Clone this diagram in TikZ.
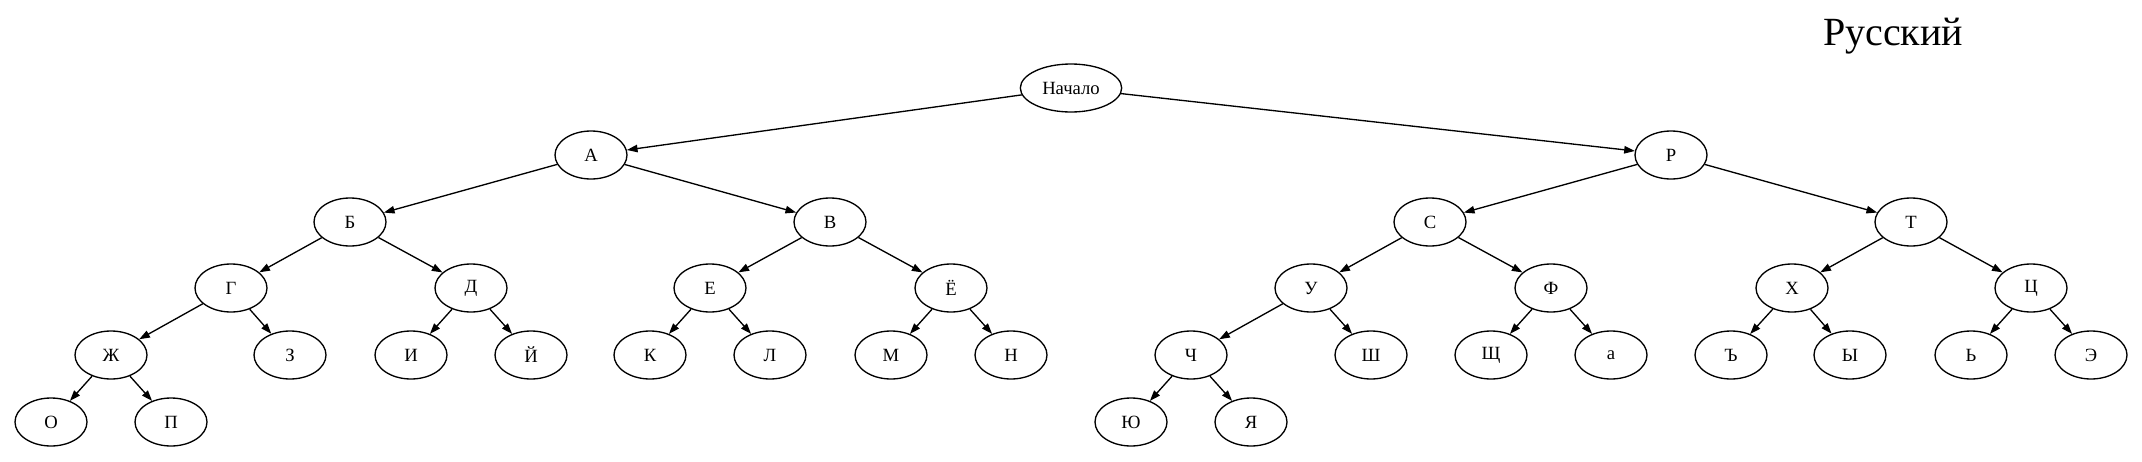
\documentclass[tikz,border=0pt]{standalone}
\usepackage{fontspec}
\setmainfont{Liberation Serif}
\usetikzlibrary{arrows.meta,shapes.geometric}
\tikzset{
  leaf/.style={draw,ellipse,line width=1pt,minimum width=54pt,minimum height=36pt,inner sep=0pt,font=\fontsize{14}{16}\selectfont},
  edge/.style={line width=1pt,-{Triangle[length=8pt,width=5.6pt]}}
}
\begin{document}
\begin{tikzpicture}[x=0.75pt,y=-0.75pt]
\useasboundingbox (0,0) rectangle (2142,461);
\def\ya{155} \def\yb{222} \def\yc{288} \def\yd{355} \def\ye{422}
\node[font=\fontsize{30}{34}\selectfont] (title) at (1893,36) {Русский};
\node[leaf,minimum width=76pt] (start) at (1071,88) {Начало};
% level 1
\node[leaf] (A) at (591,\ya) {А};
\node[leaf] (R) at (1671,\ya) {Р};
% level 2
\node[leaf] (B) at (350,\yb) {Б};
\node[leaf] (V) at (830,\yb) {В};
\node[leaf] (S) at (1430,\yb) {С};
\node[leaf] (T) at (1911,\yb) {Т};
% level 3
\node[leaf] (G) at (231,\yc) {Г};
\node[leaf] (D) at (471,\yc) {Д};
\node[leaf] (E) at (710,\yc) {Е};
\node[leaf] (Yo) at (951,\yc) {Ё};
\node[leaf] (U) at (1311,\yc) {У};
\node[leaf] (F) at (1551,\yc) {Ф};
\node[leaf] (H) at (1792,\yc) {Х};
\node[leaf] (C) at (2031,\yc) {Ц};
% level 4
\node[leaf] (Zh) at (111,\yd) {Ж};
\node[leaf] (Z) at (290,\yd) {З};
\node[leaf] (I) at (411,\yd) {И};
\node[leaf] (J) at (531,\yd) {Й};
\node[leaf] (K) at (650,\yd) {К};
\node[leaf] (L) at (770,\yd) {Л};
\node[leaf] (M) at (891,\yd) {М};
\node[leaf] (N) at (1011,\yd) {Н};
\node[leaf] (Ch) at (1191,\yd) {Ч};
\node[leaf] (Sh) at (1371,\yd) {Ш};
\node[leaf] (Shch) at (1491,\yd) {Щ};
\node[leaf] (la) at (1611,\yd) {а};
\node[leaf] (Hard) at (1731,\yd) {Ъ};
\node[leaf] (Y) at (1850,\yd) {Ы};
\node[leaf] (Soft) at (1971,\yd) {Ь};
\node[leaf] (Ee) at (2091,\yd) {Э};
% level 5
\node[leaf] (O) at (51,\ye) {О};
\node[leaf] (P) at (171,\ye) {П};
\node[leaf] (Yu) at (1131,\ye) {Ю};
\node[leaf] (Ya) at (1251,\ye) {Я};
% edges
\foreach \p/\c in {start/A,start/R,A/B,A/V,R/S,R/T,B/G,B/D,V/E,V/Yo,S/U,S/F,T/H,T/C,
  G/Zh,G/Z,D/I,D/J,E/K,E/L,Yo/M,Yo/N,U/Ch,U/Sh,F/Shch,F/la,H/Hard,H/Y,C/Soft,C/Ee,
  Zh/O,Zh/P,Ch/Yu,Ch/Ya}
  \draw[edge] (\p) -- (\c);
\end{tikzpicture}
\end{document}
